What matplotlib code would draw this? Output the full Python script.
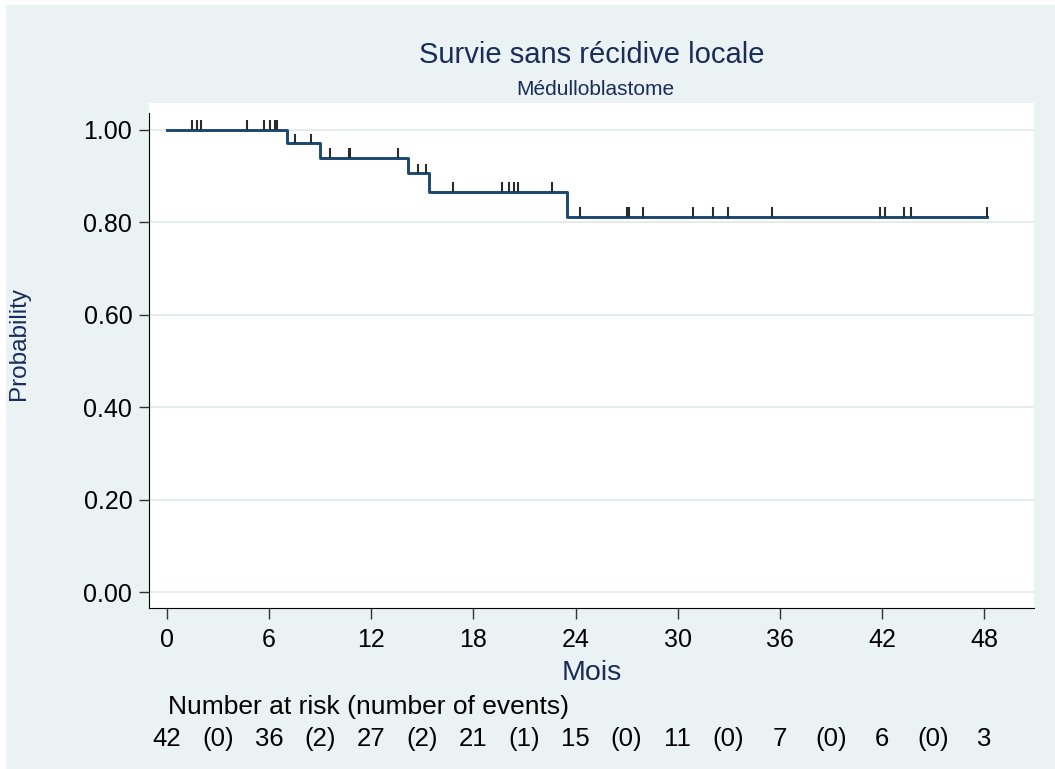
import matplotlib.pyplot as plt
import matplotlib.transforms as mtransforms
from matplotlib.patches import Rectangle
import numpy as np

# Kaplan-Meier steps
event_times = [7.03, 8.99, 14.18, 15.41, 23.48]
surv_levels = [1.00, 0.971, 0.940, 0.906, 0.866, 0.811]
last_time = 48.16

# censored observations (months)
censor_times = [1.49, 1.78, 1.98, 4.68, 5.68, 6.05, 6.33, 6.46,
                7.50, 8.46,
                9.58, 10.68, 10.74, 13.55,
                14.77, 15.22,
                16.79, 19.67, 20.11, 20.41, 20.61, 22.62,
                24.28, 27.01, 27.13, 27.95, 30.88, 32.06, 32.94,
                35.53, 41.89, 42.17, 43.28, 43.70, 48.16]

# number at risk table
risk_months = [0, 6, 12, 18, 24, 30, 36, 42, 48]
at_risk = [42, 36, 27, 21, 15, 11, 7, 6, 3]
n_events = [0, 2, 2, 1, 0, 0, 0, 0]

x_ticks = [0, 6, 12, 18, 24, 30, 36, 42, 48]
y_ticks = [0.0, 0.2, 0.4, 0.6, 0.8, 1.0]

NAVY = "#1a2d5a"
LINE = "#1a476f"
BG = "#eaf2f3"

plt.rcParams["font.family"] = ["Liberation Sans", "DejaVu Sans"]


def main():
    fig = plt.figure(figsize=(10.55, 7.69), dpi=100, facecolor="white")
    fig.patches.append(Rectangle((6 / 1055, 0), 1 - 6 / 1055, 1 - 5 / 769,
                                 transform=fig.transFigure, facecolor=BG,
                                 edgecolor="none", zorder=-10))

    ax = fig.add_axes([149 / 1055, (769 - 608) / 769, 885 / 1055, 505 / 769])
    ax.set_facecolor("white")

    # survival curve
    times = [0] + event_times + [last_time]
    probs = surv_levels + [surv_levels[-1]]
    ax.step(times, probs, where="post", color=LINE, lw=2.1, zorder=3)

    # censor marks
    idx = np.searchsorted(event_times, censor_times, side="right")
    cy = np.array(surv_levels)[idx]
    ax.vlines(censor_times, cy, cy + 0.021, color="#2b2b2b", lw=1.5, zorder=4)

    ax.set_xlim(-1.06, 50.94)
    ax.set_ylim(-0.0346, 1.058)
    ax.set_xticks(x_ticks)
    ax.set_yticks(y_ticks)
    ax.set_yticklabels([f"{v:.2f}" for v in y_ticks])
    ax.yaxis.grid(True, color="#e3ebed", lw=1.3)
    ax.set_axisbelow(True)

    ax.tick_params(axis="y", direction="out", length=7, width=1,
                   pad=5, labelsize=18, color="#333333")
    ax.tick_params(axis="x", direction="out", length=8, width=1,
                   pad=6.5, labelsize=18, color="#333333")

    for side in ["top", "right"]:
        ax.spines[side].set_visible(False)
    ax.spines["left"].set_bounds(-0.0346, 1.037)
    ax.spines["left"].set_color("black")
    ax.spines["bottom"].set_color("black")

    # titles
    fig.text(0.561, 0.9177, "Survie sans récidive locale", ha="center",
             va="baseline", fontsize=21, color=NAVY)
    fig.text(0.564, 0.8765, "Médulloblastome", ha="center", va="baseline",
             fontsize=15, color=NAVY)
    fig.text(0.0178, 0.5533, "Probability", rotation=90, ha="center",
             va="center", fontsize=17.5, color=NAVY)
    fig.text(0.5609, 0.1157, "Mois", ha="center", va="baseline",
             fontsize=20.5, color=NAVY)

    # number at risk table
    trans = mtransforms.blended_transform_factory(ax.transData, fig.transFigure)
    ax.text(0.05, 0.0719, "Number at risk (number of events)", transform=trans,
            ha="left", va="baseline", fontsize=19, color="black", clip_on=False)
    for m, n in zip(risk_months, at_risk):
        ax.text(m, 0.0302, str(n), transform=trans, ha="center",
                va="baseline", fontsize=18.5, clip_on=False)
    for i, e in enumerate(n_events):
        mid = (risk_months[i] + risk_months[i + 1]) / 2
        ax.text(mid, 0.0302, f"({e})", transform=trans, ha="center",
                va="baseline", fontsize=18.5, clip_on=False)

    fig.savefig("out.png", dpi=100, facecolor=fig.get_facecolor())


if __name__ == "__main__":
    main()
